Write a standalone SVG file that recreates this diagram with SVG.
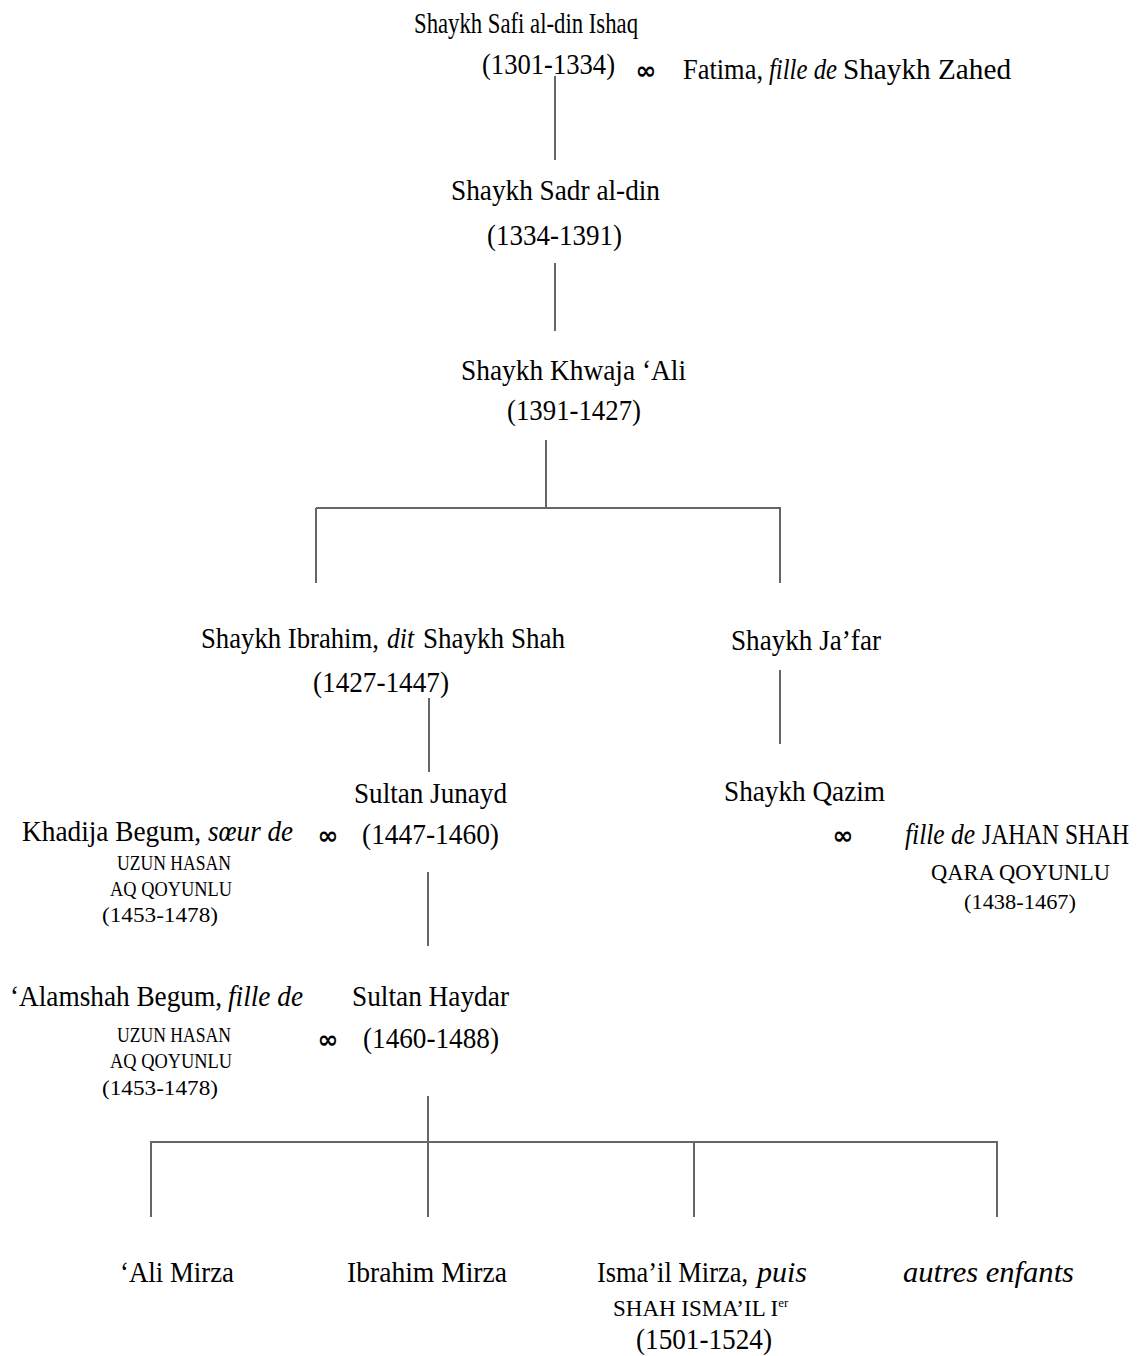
<svg xmlns="http://www.w3.org/2000/svg" width="1139" height="1356" viewBox="0 0 1139 1356">
<style>
text{font-family:"Liberation Serif","Times New Roman",serif;fill:#000;}
.n{font-size:29px;}
.i{font-size:29px;font-style:italic;}
.sc{font-size:21px;}
.sd{font-size:23px;}
.m{font-family:"DejaVu Sans",sans-serif;font-size:25px;font-weight:bold;text-anchor:middle;}
.c line{stroke:#666;stroke-width:2;fill:none;}
</style>
<rect width="1139" height="1356" fill="#fff"/>
<g class="c" id="connectors">
<line x1="555" y1="76" x2="555" y2="160"/>
<line x1="555" y1="263" x2="555" y2="331"/>
<line x1="546" y1="440" x2="546" y2="508"/>
<line x1="316" y1="508" x2="781" y2="508"/>
<line x1="316" y1="508" x2="316" y2="583"/>
<line x1="780" y1="508" x2="780" y2="583"/>
<line x1="429" y1="698" x2="429" y2="772"/>
<line x1="780" y1="670" x2="780" y2="744"/>
<line x1="428" y1="872" x2="428" y2="946"/>
<line x1="428" y1="1096" x2="428" y2="1217"/>
<line x1="150" y1="1142" x2="998" y2="1142"/>
<line x1="151" y1="1142" x2="151" y2="1217"/>
<line x1="694" y1="1142" x2="694" y2="1217"/>
<line x1="997" y1="1142" x2="997" y2="1217"/>
</g>
<g id="safi">
<text class="n" x="414" y="33" textLength="224" lengthAdjust="spacingAndGlyphs">Shaykh Safi al-din Ishaq</text>
<text class="n" x="482" y="74" textLength="133" lengthAdjust="spacingAndGlyphs">(1301-1334)</text>
<text class="m" x="646" y="79">∞</text>
</g>
<g id="fatima">
<text class="n" x="683" y="79" textLength="80" lengthAdjust="spacingAndGlyphs">Fatima,</text>
<text class="i" x="769" y="79" textLength="68" lengthAdjust="spacingAndGlyphs">fille de</text>
<text class="n" x="843" y="79" textLength="168" lengthAdjust="spacingAndGlyphs">Shaykh Zahed</text>
</g>
<g id="sadr">
<text class="n" x="451" y="200" textLength="209" lengthAdjust="spacingAndGlyphs">Shaykh Sadr al-din</text>
<text class="n" x="487" y="245" textLength="135" lengthAdjust="spacingAndGlyphs">(1334-1391)</text>
</g>
<g id="khwaja">
<text class="n" x="461" y="380" textLength="225" lengthAdjust="spacingAndGlyphs">Shaykh Khwaja ‘Ali</text>
<text class="n" x="507" y="420" textLength="134" lengthAdjust="spacingAndGlyphs">(1391-1427)</text>
</g>
<g id="ibrahim">
<text class="n" x="201" y="648" textLength="178" lengthAdjust="spacingAndGlyphs">Shaykh Ibrahim,</text>
<text class="i" x="387" y="648" textLength="27" lengthAdjust="spacingAndGlyphs">dit</text>
<text class="n" x="423" y="648" textLength="142" lengthAdjust="spacingAndGlyphs">Shaykh Shah</text>
<text class="n" x="313" y="692" textLength="136" lengthAdjust="spacingAndGlyphs">(1427-1447)</text>
</g>
<g id="jafar">
<text class="n" x="731" y="650" textLength="150" lengthAdjust="spacingAndGlyphs">Shaykh Ja’far</text>
</g>
<g id="junayd">
<text class="n" x="354" y="803" textLength="153" lengthAdjust="spacingAndGlyphs">Sultan Junayd</text>
<text class="n" x="362" y="844" textLength="137" lengthAdjust="spacingAndGlyphs">(1447-1460)</text>
<text class="m" x="328" y="844">∞</text>
</g>
<g id="khadija">
<text class="n" x="22" y="841" textLength="179" lengthAdjust="spacingAndGlyphs">Khadija Begum,</text>
<text class="i" x="208" y="841" textLength="85" lengthAdjust="spacingAndGlyphs">sœur de</text>
<text class="sc" x="117" y="870" textLength="114" lengthAdjust="spacingAndGlyphs">UZUN HASAN</text>
<text class="sc" x="110" y="896" textLength="122" lengthAdjust="spacingAndGlyphs">AQ QOYUNLU</text>
<text class="sc" x="102" y="922" textLength="116" lengthAdjust="spacingAndGlyphs">(1453-1478)</text>
</g>
<g id="qazim">
<text class="n" x="724" y="801" textLength="161" lengthAdjust="spacingAndGlyphs">Shaykh Qazim</text>
<text class="m" x="843" y="844">∞</text>
</g>
<g id="jahan">
<text class="i" x="905" y="844" textLength="70" lengthAdjust="spacingAndGlyphs">fille de</text>
<text class="n" x="982" y="844" textLength="147" lengthAdjust="spacingAndGlyphs">JAHAN SHAH</text>
<text class="sd" x="931" y="880" textLength="179" lengthAdjust="spacingAndGlyphs">QARA QOYUNLU</text>
<text class="sc" x="964" y="909" textLength="112" lengthAdjust="spacingAndGlyphs">(1438-1467)</text>
</g>
<g id="haydar">
<text class="n" x="352" y="1006" textLength="157" lengthAdjust="spacingAndGlyphs">Sultan Haydar</text>
<text class="n" x="363" y="1048" textLength="136" lengthAdjust="spacingAndGlyphs">(1460-1488)</text>
<text class="m" x="328" y="1048">∞</text>
</g>
<g id="alamshah">
<text class="n" x="10" y="1006" textLength="212" lengthAdjust="spacingAndGlyphs">‘Alamshah Begum,</text>
<text class="i" x="228" y="1006" textLength="75" lengthAdjust="spacingAndGlyphs">fille de</text>
<text class="sc" x="117" y="1042" textLength="114" lengthAdjust="spacingAndGlyphs">UZUN HASAN</text>
<text class="sc" x="110" y="1068" textLength="122" lengthAdjust="spacingAndGlyphs">AQ QOYUNLU</text>
<text class="sc" x="102" y="1095" textLength="116" lengthAdjust="spacingAndGlyphs">(1453-1478)</text>
</g>
<g id="ali">
<text class="n" x="120" y="1282" textLength="114" lengthAdjust="spacingAndGlyphs">‘Ali Mirza</text>
</g>
<g id="ibrahim-mirza">
<text class="n" x="347" y="1282" textLength="160" lengthAdjust="spacingAndGlyphs">Ibrahim Mirza</text>
</g>
<g id="ismail">
<text class="n" x="597" y="1282" textLength="151" lengthAdjust="spacingAndGlyphs">Isma’il Mirza,</text>
<text class="i" x="757" y="1282" textLength="50" lengthAdjust="spacingAndGlyphs">puis</text>
<text class="sd" x="613" y="1316">SHAH ISMA’IL I<tspan font-size="13" dy="-9">er</tspan></text>
<text class="n" x="636" y="1349" textLength="136" lengthAdjust="spacingAndGlyphs">(1501-1524)</text>
</g>
<g id="autres">
<text class="i" x="903" y="1282" textLength="171" lengthAdjust="spacingAndGlyphs">autres enfants</text>
</g>
</svg>
